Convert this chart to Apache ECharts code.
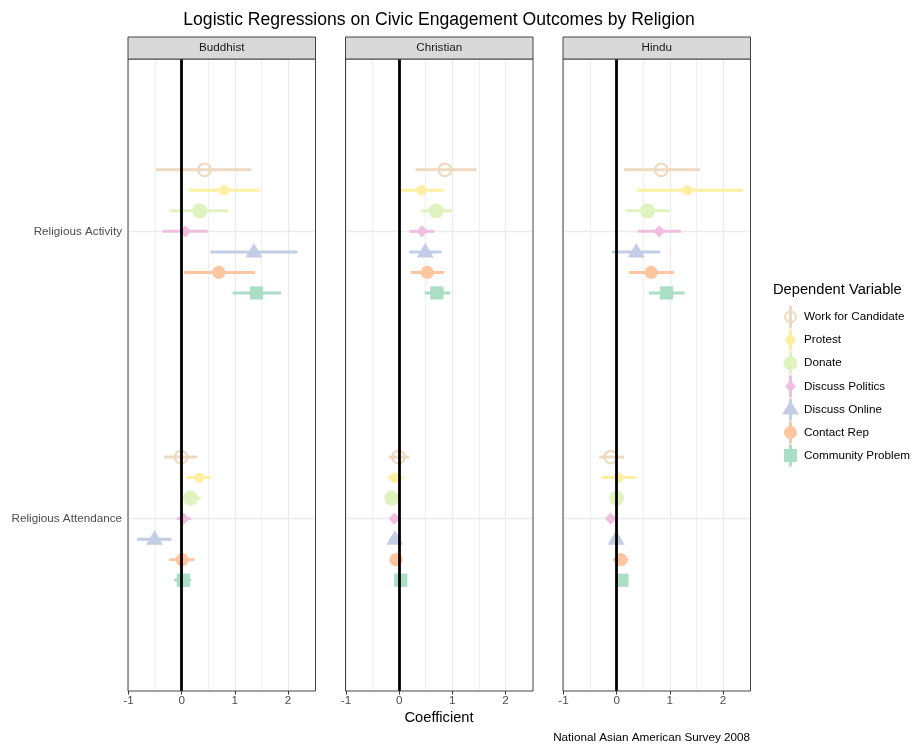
<!DOCTYPE html>
<html><head><meta charset="utf-8">
<script src="https://cdn.jsdelivr.net/npm/echarts@6/dist/echarts.min.js"></script>
<style>html,body{margin:0;padding:0;background:#fff}#chart{width:911px;height:745px}</style>
</head><body><div id="chart"></div>
<script>
const FONT = '"Liberation Sans", Arial, sans-serif';
const religions = ['Buddhist', 'Christian', 'Hindu'];
const predictors = ['Religious Attendance', 'Religious Activity']; // y = 1, 2
const outcomes = ['Work for Candidate', 'Protest', 'Donate', 'Discuss Politics', 'Discuss Online', 'Contact Rep', 'Community Problem'];
const colors = ['#EEDAC0', '#FFEFA2', '#DFF3C0', '#F0BFE0', '#C3CDE5', '#FDC5A0', '#AADEC5'];
const xTicks = [-1, 0, 1, 2];
const xMinor = [-0.5, 0.5, 1.5];

// Buddhist
const buddhistActivityEst = [0.43, 0.80, 0.34, 0.07, 1.36, 0.70, 1.41];
const buddhistActivityLo  = [-0.48, 0.13, -0.22, -0.36, 0.54, 0.04, 0.96];
const buddhistActivityHi  = [1.31, 1.47, 0.88, 0.49, 2.18, 1.38, 1.87];
const buddhistAttendEst = [-0.01, 0.33, 0.17, 0.04, -0.51, 0.01, 0.03];
const buddhistAttendLo  = [-0.33, 0.10, 0.00, -0.09, -0.84, -0.23, -0.14];
const buddhistAttendHi  = [0.29, 0.56, 0.36, 0.18, -0.19, 0.24, 0.18];
// Christian
const christianActivityEst = [0.86, 0.42, 0.70, 0.43, 0.49, 0.53, 0.71];
const christianActivityLo  = [0.31, 0.03, 0.41, 0.20, 0.19, 0.22, 0.48];
const christianActivityHi  = [1.46, 0.85, 0.99, 0.66, 0.80, 0.85, 0.96];
const christianAttendEst = [-0.01, -0.08, -0.14, -0.09, -0.08, -0.06, 0.03];
const christianAttendLo  = [-0.19, -0.21, -0.22, -0.15, -0.18, -0.14, -0.05];
const christianAttendHi  = [0.19, 0.08, -0.06, -0.03, 0.03, 0.01, 0.10];
// Hindu
const hinduActivityEst = [0.84, 1.33, 0.58, 0.80, 0.37, 0.65, 0.94];
const hinduActivityLo  = [0.14, 0.38, 0.17, 0.40, -0.09, 0.23, 0.61];
const hinduActivityHi  = [1.57, 2.37, 0.99, 1.21, 0.82, 1.08, 1.28];
const hinduAttendEst = [-0.11, 0.03, 0.00, -0.11, -0.01, 0.08, 0.10];
const hinduAttendLo  = [-0.33, -0.28, -0.07, -0.18, -0.10, -0.07, 0.02];
const hinduAttendHi  = [0.14, 0.36, 0.07, -0.05, 0.08, 0.22, 0.18];

const panels = [
  {att: [buddhistAttendEst, buddhistAttendLo, buddhistAttendHi], act: [buddhistActivityEst, buddhistActivityLo, buddhistActivityHi]},
  {att: [christianAttendEst, christianAttendLo, christianAttendHi], act: [christianActivityEst, christianActivityLo, christianActivityHi]},
  {att: [hinduAttendEst, hinduAttendLo, hinduAttendHi], act: [hinduActivityEst, hinduActivityLo, hinduActivityHi]}
];

const panelLefts = [128, 345.5, 563];
const panelW = 187.5, panelTop = 59, panelH = 632;
const X_MIN = -1.01, X_MAX = 2.52;
const DODGE = 0.5;

function marker(k, x, y, color) {
  switch (k) {
    case 0: return {type: 'circle', shape: {cx: x, cy: y, r: 6.3}, style: {fill: 'rgba(0,0,0,0)', stroke: color, lineWidth: 2.2}};
    case 1: return {type: 'circle', shape: {cx: x, cy: y, r: 5.2}, style: {fill: color}};
    case 2: return {type: 'circle', shape: {cx: x, cy: y, r: 7.5}, style: {fill: color}};
    case 3: return {type: 'polygon', shape: {points: [[x, y - 6.2], [x + 5.8, y], [x, y + 6.2], [x - 5.8, y]]}, style: {fill: color}};
    case 4: return {type: 'polygon', shape: {points: [[x, y - 9], [x + 8.5, y + 5.5], [x - 8.5, y + 5.5]]}, style: {fill: color}};
    case 5: return {type: 'circle', shape: {cx: x, cy: y, r: 6.6}, style: {fill: color}};
    default: return {type: 'rect', shape: {x: x - 6.6, y: y - 6.6, width: 13.2, height: 13.2}, style: {fill: color}};
  }
}

const bar = 'M6.5,0 L9.5,0 L9.5,22 L6.5,22 Z ';
const icons = [
  'path://' + bar + 'M8,4.5 A6.5,6.5 0 1,1 7.99,4.5 Z M8,6.5 A4.5,4.5 0 1,0 8.01,6.5 Z',
  'path://' + bar + 'M8,6 A5,5 0 1,1 7.99,6 Z',
  'path://' + bar + 'M8,4 A7,7 0 1,1 7.99,4 Z',
  'path://' + bar + 'M8,5 L13.5,11 L8,17 L2.5,11 Z',
  'path://' + bar + 'M8,2 L16.5,16 L-0.5,16 Z',
  'path://' + bar + 'M8,4.5 A6.5,6.5 0 1,1 7.99,4.5 Z',
  'path://' + bar + 'M1.5,4.5 L14.5,4.5 L14.5,17.5 L1.5,17.5 Z'
];

const grids = [], xAxes = [], yAxes = [], series = [], graphics = [];
panels.forEach((p, r) => {
  grids.push({left: panelLefts[r], top: panelTop, width: panelW, height: panelH, show: true,
    backgroundColor: '#fff', borderWidth: 0, containLabel: false});
  xAxes.push({type: 'value', gridIndex: r, min: X_MIN, max: X_MAX,
    axisLine: {show: false}, splitLine: {show: false},
    axisTick: {show: true, customValues: xTicks, length: 3.5, lineStyle: {color: '#333', width: 1}},
    axisLabel: {show: true, customValues: xTicks, margin: 4, color: '#4d4d4d', fontSize: 11.7, fontFamily: FONT,
      formatter: v => String(v)}});
  yAxes.push({type: 'value', gridIndex: r, min: 0.4, max: 2.6,
    axisLine: {show: false}, splitLine: {show: false},
    axisTick: {show: r === 0, customValues: [1, 2], length: 3.5, lineStyle: {color: '#333', width: 1}},
    axisLabel: {show: r === 0, customValues: [1, 2], margin: 6, color: '#4d4d4d', fontSize: 11.7, fontFamily: FONT,
      formatter: v => predictors[Math.round(v) - 1]}});
  // grid lines
  series.push({type: 'line', xAxisIndex: r, yAxisIndex: r, data: [], silent: true, z: 1,
    markLine: {silent: true, z: 1, symbol: ['none', 'none'], label: {show: false}, animation: false,
      data: xMinor.map(v => ({xAxis: v, lineStyle: {color: '#ebebeb', width: 0.8, type: 'solid'}}))
        .concat(xTicks.map(v => ({xAxis: v, lineStyle: {color: '#ebebeb', width: 1.3, type: 'solid'}})))
        .concat([1, 2].map(v => ({yAxis: v, lineStyle: {color: '#ebebeb', width: 1.3, type: 'solid'}})))}});
  outcomes.forEach((name, k) => {
    const data = [
      [p.att[0][k], p.att[1][k], p.att[2][k], 1],
      [p.act[0][k], p.act[1][k], p.act[2][k], 2]
    ];
    series.push({type: 'custom', name: name, xAxisIndex: r, yAxisIndex: r, z: 3,
      itemStyle: {color: colors[k]}, data: data, encode: {x: [0, 1, 2], y: 3},
      renderItem: (params, api) => {
        const yv = api.value(3) + (3 - k) * DODGE / 7;
        const pt = api.coord([api.value(0), yv]);
        const a = api.coord([api.value(1), yv]);
        const b = api.coord([api.value(2), yv]);
        return {type: 'group', children: [
          {type: 'line', shape: {x1: a[0], y1: a[1], x2: b[0], y2: b[1]}, style: {stroke: colors[k], lineWidth: 3}},
          marker(k, pt[0], pt[1], colors[k])
        ]};
      }});
  });
  // zero line on top
  series.push({type: 'line', xAxisIndex: r, yAxisIndex: r, data: [], silent: true, z: 10,
    markLine: {silent: true, z: 10, symbol: ['none', 'none'], label: {show: false}, animation: false,
      data: [{xAxis: 0, lineStyle: {color: '#000', width: 2.8, type: 'solid'}}]}});
  // panel border on top
  graphics.push({type: 'rect', shape: {x: panelLefts[r], y: panelTop, width: panelW, height: panelH},
    style: {fill: 'none', stroke: '#444', lineWidth: 1}, z: 100});
  // strip
  graphics.push({type: 'rect', shape: {x: panelLefts[r], y: 37, width: panelW, height: 22},
    style: {fill: '#d9d9d9', stroke: '#444', lineWidth: 1}, z: 100});
  graphics.push({type: 'text', x: panelLefts[r] + panelW / 2, y: 48, z: 101,
    style: {text: religions[r], fill: '#1a1a1a', font: '11.7px ' + FONT, textAlign: 'center', textVerticalAlign: 'middle'}});
});

graphics.push({type: 'text', x: 439, y: 20, style: {text: 'Logistic Regressions on Civic Engagement Outcomes by Religion',
  fill: '#000', font: '17.6px ' + FONT, textAlign: 'center', textVerticalAlign: 'middle'}});
graphics.push({type: 'text', x: 439, y: 718, style: {text: 'Coefficient',
  fill: '#000', font: '14.7px ' + FONT, textAlign: 'center', textVerticalAlign: 'middle'}});
graphics.push({type: 'text', x: 750, y: 738, style: {text: 'National Asian American Survey 2008',
  fill: '#000', font: '11.7px ' + FONT, textAlign: 'right', textVerticalAlign: 'middle'}});
graphics.push({type: 'text', x: 773, y: 290, style: {text: 'Dependent Variable',
  fill: '#000', font: '14.7px ' + FONT, textAlign: 'left', textVerticalAlign: 'middle'}});

const chart = echarts.init(document.getElementById('chart'), null, {renderer: 'canvas'});
chart.setOption({
  animation: false,
  backgroundColor: '#fff',
  grid: grids, xAxis: xAxes, yAxis: yAxes, series: series,
  legend: {orient: 'vertical', left: 777, top: 301, itemWidth: 17, itemHeight: 22, itemGap: 1.1, itemTextGap: 8,
    symbolKeepAspect: true, selectedMode: false,
    textStyle: {fontSize: 11.7, color: '#000', fontFamily: FONT},
    data: outcomes.map((n, k) => ({name: n, icon: icons[k], itemStyle: {color: colors[k], borderWidth: 0}}))},
  graphic: graphics
});
</script></body></html>
